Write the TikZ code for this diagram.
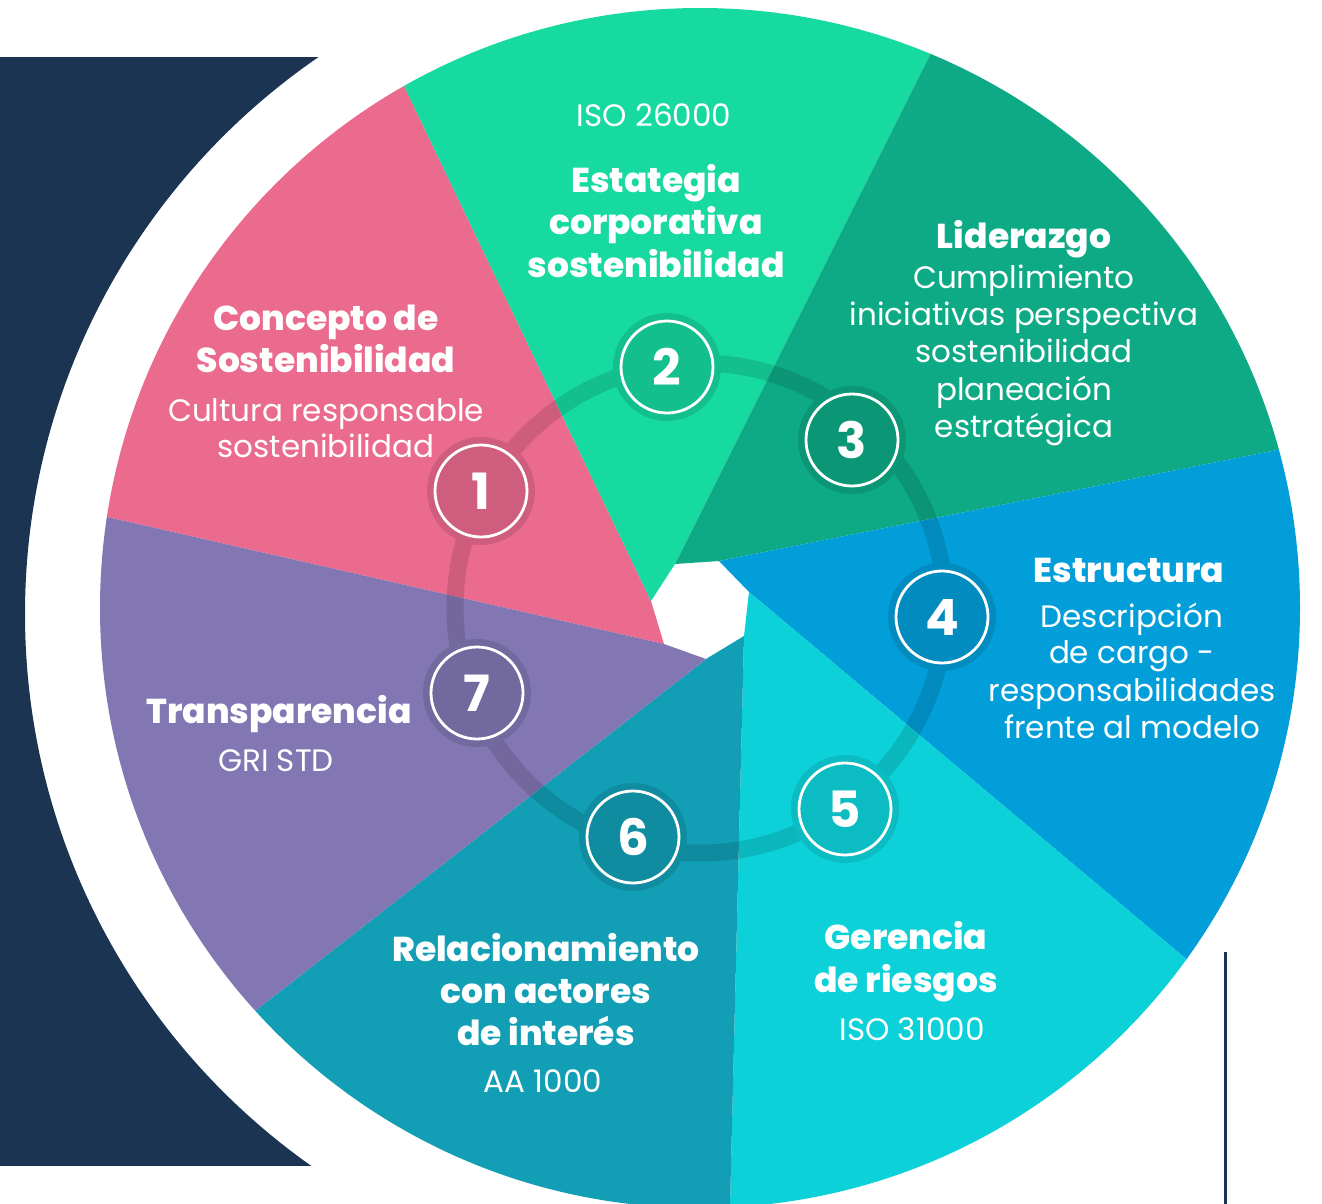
\documentclass[tikz,border=0pt]{standalone}
\usepackage{fontspec}
\setmainfont{Poppins}
\newfontfamily\popxb{Poppins ExtraBold}
\usetikzlibrary{calc}
\definecolor{navy}{HTML}{1A3452}
\definecolor{cpink}{HTML}{EB6B8F}
\definecolor{cgreen}{HTML}{16DAA0}
\definecolor{cdkgreen}{HTML}{0DAA85}
\definecolor{cblue}{HTML}{029ED9}
\definecolor{ccyan}{HTML}{0CD1D8}
\definecolor{cteal}{HTML}{129FB6}
\definecolor{cpurple}{HTML}{8277B3}
\begin{document}
\begin{tikzpicture}[x=1pt,y=-1pt,
  bt/.style={text=white, anchor=base, inner sep=0pt, font=\popxb\fontsize{34.5}{41}\selectfont},
  rt/.style={text=white, anchor=base, inner sep=0pt, font=\fontsize{31}{37}\selectfont},
  numc/.style={circle, minimum size=92pt, inner sep=0pt, draw=white, line width=2.8pt, fill=#1, text=white,
    font=\bfseries\fontsize{50}{50}\selectfont, preaction={draw=#1, fill=#1, line width=16pt}},
  ringline/.style={draw=black, draw opacity=0.12, line width=17pt},
  slicefill/.style={fill=#1}]
\fill[white] (0,0) rectangle (1322,1204);
\useasboundingbox (0,0) rectangle (1322,1204);
% navy backdrop
\begin{scope}
  \clip (0,58) rectangle (700,1165);
  \fill[navy, even odd rule] (-50,0) rectangle (800,1250) (700,614) circle (675);
\end{scope}
% geometry
\coordinate (C) at (700,608);
\coordinate (H1) at (651,601); \coordinate (O1) at (405,88);
\coordinate (H2) at (675,564); \coordinate (O2) at (930,55);
\coordinate (H3) at (719,561); \coordinate (O3) at (1277,450);
\coordinate (H4) at (749,592); \coordinate (O4) at (1185,958);
\coordinate (H5) at (744,636); \coordinate (O5) at (730,1207);
\coordinate (H6) at (706,659); \coordinate (O6) at (255,1011);
\coordinate (H7) at (664,644); \coordinate (O7) at (107,517);
\foreach \k in {1,...,7}{\coordinate (F\k) at ($(H\k)!2.3!(O\k)$);}
% slices
\begin{scope}
  \clip (C) circle (600);
  \fill[slicefill=cpink]    (H7) -- (F7) -- (F1) -- (H1) -- cycle;
  \fill[slicefill=cgreen]   (H1) -- (F1) -- (F2) -- (H2) -- cycle;
  \fill[slicefill=cdkgreen] (H2) -- (F2) -- (F3) -- (H3) -- cycle;
  \fill[slicefill=cblue]    (H3) -- (F3) -- (F4) -- (H4) -- cycle;
  \fill[slicefill=ccyan]    (H4) -- (F4) -- (F5) -- (H5) -- cycle;
  \fill[slicefill=cteal]    (H5) -- (F5) -- (F6) -- (H6) -- cycle;
  \fill[slicefill=cpurple]  (H6) -- (F6) -- (F7) -- (H7) -- cycle;
\end{scope}
% ring
\draw[ringline] (C) circle (245);
% numbered circles
\node[numc=cpink!88!black]    (n1) at (481,491) {1};
\node[numc=cgreen!88!black]   (n2) at (667,367) {2};
\node[numc=cdkgreen!88!black] (n3) at (852,440) {3};
\node[numc=cblue!88!black]    (n4) at (942,617) {4};
\node[numc=ccyan!90!black]    (n5) at (845,809) {5};
\node[numc=cteal!88!black]    (n6) at (633,837) {6};
\node[numc=cpurple!88!black]  (n7) at (477,693) {7};
% vertical line
\coordinate (v1) at (1225.7,952);
\coordinate (v2) at (1225.7,1204);
\draw[navy, line width=3pt] (v1) -- (v2);
% texts: 1
\node[bt] (t1a) at (326,330) {Concepto de};
\node[bt] (t1b) at (326,372) {Sostenibilidad};
\node[rt] (t1c) at (326,421) {Cultura responsable};
\node[rt] (t1d) at (326,457) {sostenibilidad};
% 2
\node[rt] (t2a) at (654,127) {ISO 26000};
\node[bt] (t2b) at (656,192) {Estategia};
\node[bt] (t2c) at (656,234.5) {corporativa};
\node[bt] (t2d) at (656,277) {sostenibilidad};
% 3
\node[bt] (t3a) at (1024,248) {Liderazgo};
\node[rt] (t3b) at (1024,288) {Cumplimiento};
\node[rt] (t3c) at (1024,325) {iniciativas perspectiva};
\node[rt] (t3d) at (1024,362.5) {sostenibilidad};
\node[rt] (t3e) at (1024,400) {planeación};
\node[rt] (t3f) at (1024,437) {estratégica};
% 4
\node[bt] (t4a) at (1129,582) {Estructura};
\node[rt] (t4b) at (1132,627) {Descripción};
\node[rt] (t4c) at (1132,663.5) {de cargo -};
\node[rt] (t4d) at (1132,701) {responsabilidades};
\node[rt] (t4e) at (1132,738) {frente al modelo};
% 5
\node[bt] (t5a) at (906,949) {Gerencia};
\node[bt] (t5b) at (906,992) {de riesgos};
\node[rt] (t5c) at (912,1040) {ISO 31000};
% 6
\node[bt] (t6a) at (546,961) {Relacionamiento};
\node[bt] (t6b) at (546,1003) {con actores};
\node[bt] (t6c) at (546,1045) {de interés};
\node[rt] (t6d) at (543,1092) {AA 1000};
% 7
\node[bt] (t7a) at (279,723) {Transparencia};
\node[rt] (t7b) at (276,771) {GRI STD};
\end{tikzpicture}
\end{document}
